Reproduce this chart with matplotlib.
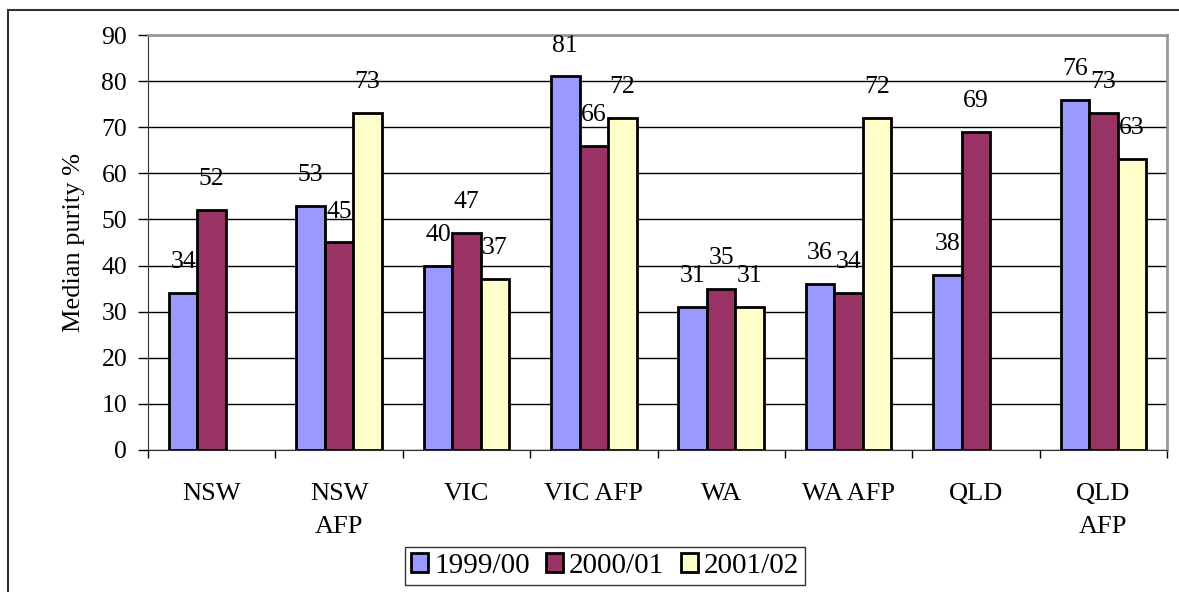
import matplotlib.pyplot as plt
from matplotlib.patches import Rectangle
import numpy as np

categories = ["NSW", "NSW\nAFP", "VIC", "VIC AFP", "WA", "WA AFP", "QLD", "QLD\nAFP"]
series_names = ["1999/00", "2000/01", "2001/02"]
y1999 = [34, 53, 40, 81, 31, 36, 38, 76]
y2000 = [52, 45, 47, 66, 35, 34, 69, 73]
y2001 = [None, 73, 37, 72, 31, 72, None, 63]
colors = ["#9999FF", "#993366", "#FFFFCC"]

plt.rcParams["font.family"] = ["Liberation Serif", "DejaVu Serif"]
fs = 18.5

fig = plt.figure(figsize=(11.79, 5.92), dpi=100)
# outer chart frame
fig.patches.append(Rectangle((8 / 1179, -0.1), 1.2, (592 - 10) / 592 + 0.1,
                             transform=fig.transFigure, fill=False,
                             edgecolor="#333333", linewidth=1.5))

ax = fig.add_axes([148 / 1179, (592 - 450) / 592, (1167 - 148) / 1179, (450 - 35) / 592])

x = np.arange(len(categories))
w = 0.224
handles = []
for i, (vals, name) in enumerate(zip([y1999, y2000, y2001], series_names)):
    xs = [xi + (i - 1) * w for xi, v in zip(x, vals) if v is not None]
    vs = [v for v in vals if v is not None]
    b = ax.bar(xs, vs, width=w, color=colors[i], edgecolor="black", linewidth=2,
               label=name, zorder=3)
    handles.append(b)
    for xi, v in zip(xs, vs):
        ax.annotate(str(v), (xi, v), xytext=(0, 31), textcoords="offset pixels",
                    ha="center", va="center", fontsize=fs, zorder=4)

ax.set_xlim(-0.5, len(categories) - 0.5)
ax.set_ylim(0, 90)
ax.set_yticks(range(0, 91, 10))
ax.yaxis.grid(True, color="black", linewidth=1)
ax.set_axisbelow(True)

ax.set_xticks(x)
ax.set_xticklabels(categories, fontsize=fs + 0.5, linespacing=1.6)
ax.set_xticks(np.arange(-0.5, len(categories), 1), minor=True)
ax.tick_params(axis="x", which="major", length=0, pad=24)
ax.tick_params(axis="x", which="minor", length=6, width=1, direction="out")
ax.tick_params(axis="y", length=7, width=1, direction="out", labelsize=fs, pad=8)

for s in ["top", "right"]:
    ax.spines[s].set_color("#999999")
    ax.spines[s].set_linewidth(2)
ax.spines["left"].set_color("#333333")
ax.spines["bottom"].set_color("#333333")

ax.set_ylabel("Median purity %", fontsize=fs + 0.5, labelpad=12)

leg = fig.legend(handles=handles, loc="center", bbox_to_anchor=(605 / 1179, 1 - 566 / 592),
                 ncol=3, fontsize=21, frameon=True, fancybox=False,
                 handlelength=0.6, handleheight=0.6, handletextpad=0.2,
                 columnspacing=0.55, borderpad=0.2)
leg.get_frame().set_edgecolor("black")
leg.get_frame().set_linewidth(1)

fig.savefig("out.png", dpi=100)
